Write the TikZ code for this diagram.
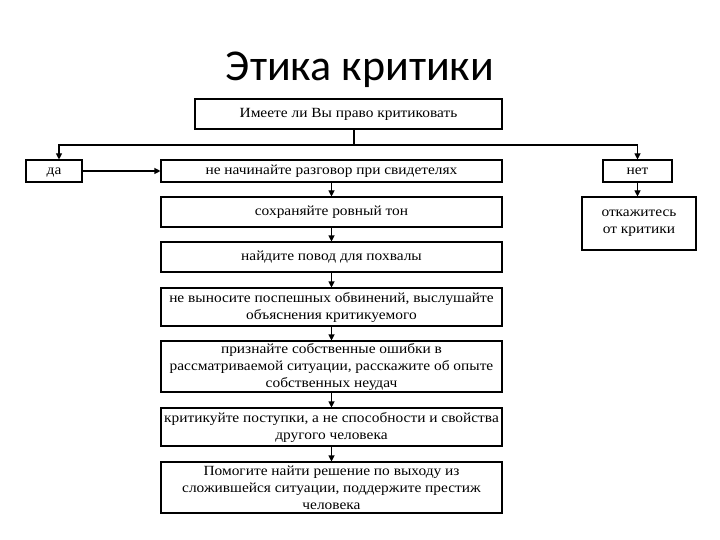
\documentclass[tikz,border=0pt]{standalone}
\usepackage{fontspec}
\setmainfont{Liberation Serif}
\newfontfamily\boxfont[FakeStretch=1.1]{Liberation Serif}
\newfontfamily\titlefont{Carlito}
\usetikzlibrary{arrows.meta}
\tikzset{
  box/.style={draw, line width=1.1pt, inner sep=1pt, align=center, anchor=center,
    font=\boxfont\fontsize{14}{17}\selectfont},
  one/.style={text height=9.5pt, text depth=3pt},
  arr/.style={line width=1.1pt, -{Triangle[length=6pt,width=6pt]}},
  ln/.style={line width=1.1pt}
}
\begin{document}
\begin{tikzpicture}[x=1pt,y=-1pt]
\useasboundingbox[fill=white] (0,0) rectangle (720,540);
\node[anchor=base, font=\titlefont\fontsize{44}{48}\selectfont] (title) at (360,81) {Этика критики};
\node[box, one, minimum width=307pt, minimum height=30pt] (top) at (348.5,114) {Имеете ли Вы право критиковать};
\node[box, one, minimum width=56pt, minimum height=22pt] (da) at (54,171) {да};
\node[box, one, minimum width=69pt, minimum height=22pt] (net) at (637.5,171) {нет};
\node[box, minimum width=114pt, minimum height=53pt] (otk) at (639,223.5) {откажитесь\\от критики};
\node[box, one, minimum width=341pt, minimum height=22pt] (b1) at (331.5,171) {не начинайте разговор при свидетелях};
\node[box, one, minimum width=341pt, minimum height=30pt] (b2) at (331.5,212) {сохраняйте ровный тон};
\node[box, one, minimum width=341pt, minimum height=30pt] (b3) at (331.5,257) {найдите повод для похвалы};
\node[box, minimum width=341pt, minimum height=38pt] (b4) at (331.5,307) {не выносите поспешных обвинений, выслушайте\\объяснения критикуемого};
\node[box, minimum width=341pt, minimum height=51pt] (b5) at (331.5,366.5) {признайте собственные ошибки в\\рассматриваемой ситуации, расскажите об опыте\\собственных неудач};
\node[box, minimum width=341pt, minimum height=38pt] (b6) at (331.5,427) {критикуйте поступки, а не способности и свойства\\другого человека};
\node[box, minimum width=341pt, minimum height=51pt] (b7) at (331.5,487.5) {Помогите найти решение по выходу из\\сложившейся ситуации, поддержите престиж\\человека};
\coordinate (split) at (354,145);
\draw[ln] (top.south -| split) -- (split);
\draw[arr] (split) -| ([xshift=5pt]da.north);
\draw[arr] (split) -| (net.north);
\draw[arr] (net) -- (otk.north -| net);
\draw[arr] (da) -- (b1);
\draw[arr] (b1) -- (b2);
\draw[arr] (b2) -- (b3);
\draw[arr] (b3) -- (b4);
\draw[arr] (b4) -- (b5);
\draw[arr] (b5) -- (b6);
\draw[arr] (b6) -- (b7);
\end{tikzpicture}
\end{document}
